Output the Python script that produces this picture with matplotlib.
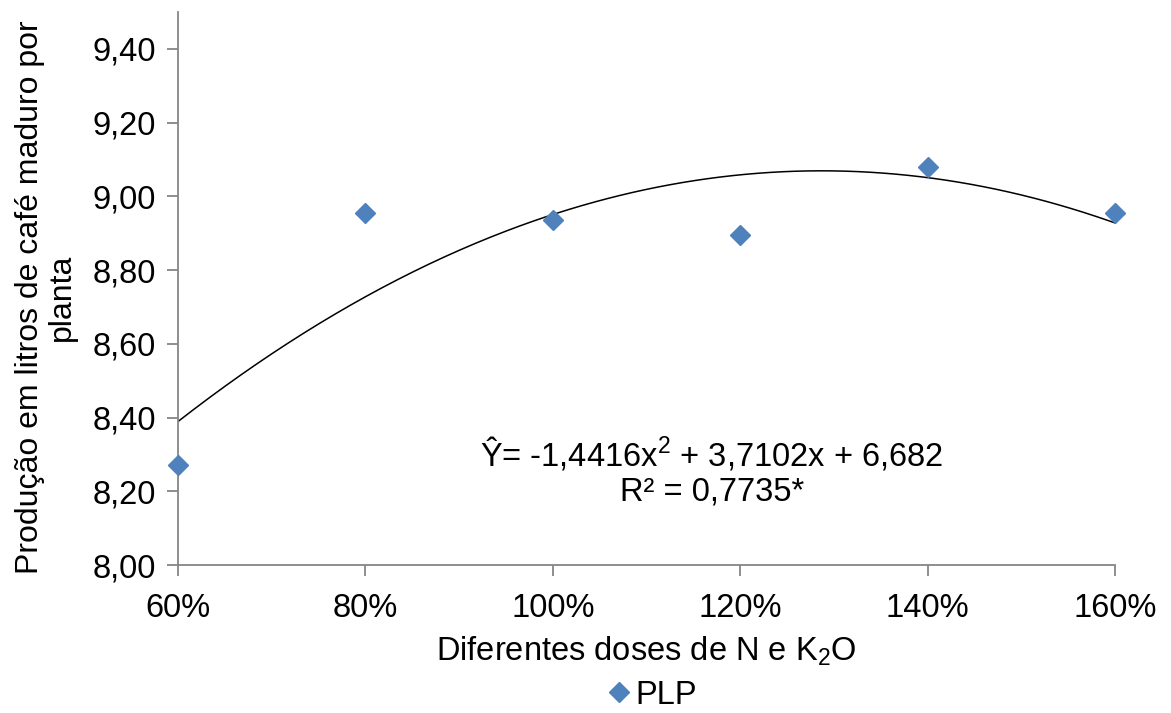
import numpy as np
import matplotlib
matplotlib.use("Agg")
import matplotlib.pyplot as plt

plt.rcParams['font.family'] = ['Liberation Sans', 'DejaVu Sans']
plt.rcParams['mathtext.fontset'] = 'custom'
plt.rcParams['mathtext.rm'] = 'Liberation Sans'
plt.rcParams['mathtext.it'] = 'Liberation Sans'
plt.rcParams['mathtext.default'] = 'regular'

doses = [0.6, 0.8, 1.0, 1.2, 1.4, 1.6]
plp = [8.27, 8.955, 8.935, 8.895, 9.08, 8.955]
coef = [-1.4416, 3.7102, 6.682]
x_ticks = [0.6, 0.8, 1.0, 1.2, 1.4, 1.6]
x_labels = ['60%', '80%', '100%', '120%', '140%', '160%']
y_ticks = [8.0, 8.2, 8.4, 8.6, 8.8, 9.0, 9.2, 9.4]
y_labels = ['8,00', '8,20', '8,40', '8,60', '8,80', '9,00', '9,20', '9,40']

fig = plt.figure(figsize=(11.71, 7.13), dpi=100)
ax = fig.add_axes([178/1171, (713-565)/713, (1115-178)/1171, (565-12)/713])

xs = np.linspace(doses[0], doses[-1], 300)
ax.plot(xs, np.polyval(coef, xs), color='black', lw=1.1, zorder=2)
ax.plot(doses, plp, linestyle='none', marker='D', markersize=10.5,
        color='#4F81BD', label='PLP', zorder=3, clip_on=False)

ax.set_xlim(0.6, 1.6)
ax.set_ylim(8.0, 9.5)
ax.set_xticks(x_ticks)
ax.set_xticklabels(x_labels)
ax.set_yticks(y_ticks)
ax.set_yticklabels(y_labels)
for s in ['top', 'right']:
    ax.spines[s].set_visible(False)
for s in ['left', 'bottom']:
    ax.spines[s].set_color('#868686')
    ax.spines[s].set_linewidth(1.3)
ax.tick_params(axis='both', direction='out', length=8, width=1.3, color='#868686',
               labelsize=23.5)
ax.tick_params(axis='x', pad=12)
ax.tick_params(axis='y', pad=8)

ax.set_xlabel('Diferentes doses de N e K$_2$O', fontsize=23.5, labelpad=8)
ax.set_ylabel('Produção em litros de café maduro por\nplanta', fontsize=23,
              linespacing=1.1)
ax.yaxis.set_label_coords((77 - 178) / 937, (565 - 297) / 553)

ax.text(0.57, 0.17, 'Ŷ= -1,4416x$^2$ + 3,7102x + 6,682\nR² = 0,7735*', transform=ax.transAxes,
        ha='center', va='center', fontsize=23.5, linespacing=1.15)

fig.legend(loc='center', bbox_to_anchor=(650/1171, 1-695/713), frameon=False, fontsize=23.5,
           handletextpad=0.0, borderaxespad=0, handlelength=1.0)

fig.savefig('out.png', dpi=100)
